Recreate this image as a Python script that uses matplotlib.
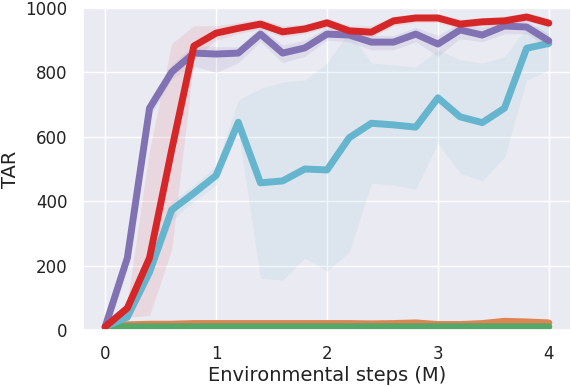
import numpy as np
import matplotlib
matplotlib.use("Agg")
import matplotlib.pyplot as plt
import seaborn as sns

sns.set_theme(style="darkgrid")
plt.rcParams['font.family'] = ['DejaVu Sans']

# environmental steps (M)
steps = [0.0, 0.2, 0.4, 0.6, 0.8, 1.0, 1.2, 1.4, 1.6, 1.8, 2.0,
         2.2, 2.4, 2.6, 2.8, 3.0, 3.2, 3.4, 3.6, 3.8, 4.0]

# red
red_mean = [10, 68, 224, 560, 882, 922, 937, 950, 926, 935, 954,
            929, 925, 960, 969, 969, 950, 957, 960, 972, 953]
red_low = [5, 40, 45, 250, 840, 900, 920, 935, 910, 920, 940,
           915, 910, 945, 955, 955, 935, 945, 945, 958, 940]
red_high = [15, 90, 560, 890, 945, 945, 955, 965, 945, 950, 968,
            945, 945, 975, 982, 982, 965, 970, 975, 985, 968]

# purple
purple_mean = [10, 224, 689, 801, 860, 857, 860, 919, 860, 876, 919,
               916, 894, 894, 919, 888, 932, 916, 944, 941, 898]
purple_low = [5, 200, 660, 780, 820, 800, 830, 895, 830, 850, 900,
              895, 870, 870, 895, 850, 905, 895, 920, 920, 875]
purple_high = [15, 250, 715, 825, 885, 880, 880, 940, 885, 900, 940,
               935, 915, 915, 940, 915, 955, 940, 965, 960, 920]

# blue
blue_mean = [10, 40, 180, 373, 425, 480, 645, 457, 463, 500, 497,
             597, 642, 637, 630, 721, 662, 644, 689, 875, 890]
blue_low = [5, 25, 160, 340, 400, 450, 620, 161, 155, 224, 183,
            242, 456, 450, 438, 580, 487, 463, 537, 776, 807]
blue_high = [15, 55, 200, 400, 450, 510, 714, 750, 770, 776, 829,
             925, 829, 823, 817, 870, 839, 829, 848, 940, 950]

# orange
orange_mean = [10, 16, 18, 18, 20, 20, 20, 20, 20, 20, 20,
               20, 19, 20, 22, 17, 17, 20, 27, 25, 22]
orange_low = [5, 10, 12, 12, 13, 13, 13, 13, 13, 13, 13,
              13, 13, 13, 13, 12, 12, 13, 15, 15, 14]
orange_high = [15, 22, 24, 24, 27, 27, 27, 27, 27, 27, 27,
               27, 26, 28, 32, 22, 24, 28, 38, 34, 30]

# green
green_mean = [8, 10, 10, 10, 10, 10, 10, 10, 10, 10, 10,
              10, 10, 10, 10, 10, 10, 10, 10, 10, 10]

fig = plt.figure(figsize=(5.71, 3.87), dpi=100)
ax = fig.add_axes([83 / 571, 57 / 387, 488 / 571, 322 / 387])

lw = 5
ax.fill_between(steps, orange_low, orange_high, color="#DD8452", alpha=0.2, lw=0)
ax.plot(steps, orange_mean, color="#DD8452", lw=lw)
ax.plot(steps, green_mean, color="#55A868", lw=lw)

ax.fill_between(steps, blue_low, blue_high, color="#8EC3DD", alpha=0.15, lw=0)
ax.plot(steps, blue_mean, color="#64B5CD", lw=lw)

ax.fill_between(steps, purple_low, purple_high, color="#8172B3", alpha=0.12, lw=0)
ax.plot(steps, purple_mean, color="#8172B3", lw=lw)

ax.fill_between(steps, red_low, red_high, color="#E8A0A8", alpha=0.25, lw=0)
ax.plot(steps, red_mean, color="#D62728", lw=lw)

ax.set_xlim(-0.2, 4.2)
ax.set_ylim(0, 1000)
ax.set_xticks([0, 1, 2, 3, 4])
ax.set_yticks([0, 200, 400, 600, 800, 1000])
ax.tick_params(labelsize=12, length=0, pad=11, colors="#222222")
ax.set_xlabel("Environmental steps (M)", fontsize=14, labelpad=2, color="#222222")
ax.set_ylabel("TAR", fontsize=14, labelpad=4, color="#222222")

fig.savefig("out.png", dpi=100)
